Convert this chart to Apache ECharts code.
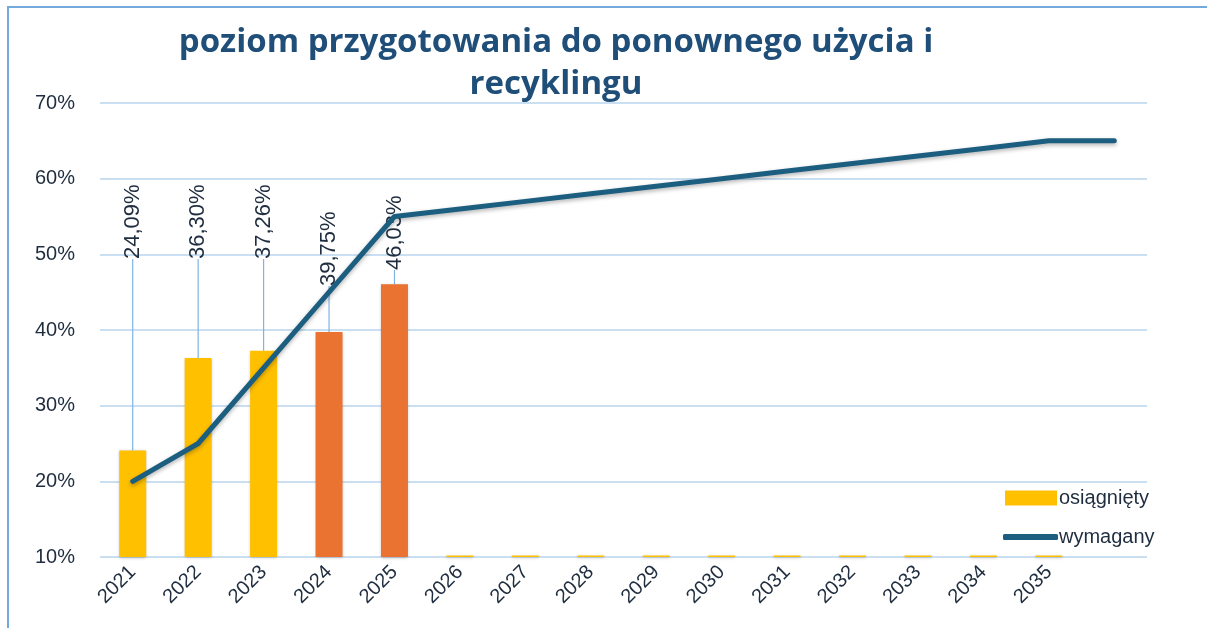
<!DOCTYPE html>
<html>
<head>
<meta charset="utf-8">
<script src="https://cdn.jsdelivr.net/npm/echarts@6/dist/echarts.min.js"></script>
<style>
  html, body { margin: 0; padding: 0; background: #fff; }
  #main { width: 1207px; height: 628px; }
  .frame {
    position: absolute; left: 7px; top: 6px; width: 1200px; height: 622px;
    border-left: 2px solid #74a9dc; border-top: 2px solid #74a9dc;
    pointer-events: none;
  }
</style>
</head>
<body>
<div id="main"></div>
<div class="frame"></div>
<script>
// lata
const years = ["2021", "2022", "2023", "2024", "2025", "2026", "2027", "2028",
  "2029", "2030", "2031", "2032", "2033", "2034", "2035", ""];
// osiągnięty poziom (%)
const achieved = [24.09, 36.30, 37.26, 39.75, 46.03,
  10.2, 10.2, 10.2, 10.2, 10.2, 10.2, 10.2, 10.2, 10.2, 10.2, null];
// wymagany poziom (%)
const required = [20, 25, 35, 45, 55, 56, 57, 58, 59, 60, 61, 62, 63, 64, 65, 65];
// etykiety słupków (tylko dla osiągniętych)
const achievedLabels = ["24,09%", "36,30%", "37,26%", "39,75%", "46,03%"];

const YELLOW = "#ffc000";
const ORANGE = "#ea7332";
const NAVY = "#1f2d3f";
const LINE = "#1b5e80";
// gdzie zaczyna się tekst etykiety (px)
const labelStartY = [259, 259, 259, 286, 270];

let myChart = echarts.init(document.getElementById("main"));
myChart.setOption({
  animation: false,
  textStyle: { fontFamily: "Liberation Sans, Arial, sans-serif" },
  graphic: [{
    type: "text",
    left: 556 - 400,
    top: 22,
    style: {
      text: "poziom przygotowania do ponownego użycia i\nrecyklingu",
      width: 800,
      x: 400,
      textAlign: "center",
      fill: "#1f4e79",
      font: "bold 33px 'Open Sans', sans-serif",
      lineHeight: 42
    }
  }],
  grid: { left: 100, right: 60, top: 103, bottom: 71 },
  legend: [
    {
      left: 1000,
      top: 483,
      itemWidth: 52,
      itemHeight: 15,
      itemGap: 0,
      textStyle: { color: NAVY, fontSize: 20, padding: [0, 0, 0, -3] },
      data: [{ name: "osiągnięty", icon: "rect" }]
    },
    {
      left: 998,
      top: 522,
      itemWidth: 55,
      itemHeight: 6,
      textStyle: { color: NAVY, fontSize: 20, padding: [0, 0, 0, -4] },
      data: [{ name: "wymagany", icon: "roundRect", itemStyle: { color: LINE } }]
    }
  ],
  xAxis: {
    type: "category",
    data: years,
    boundaryGap: true,
    axisLine: { show: false },
    axisTick: { show: false },
    axisLabel: { color: NAVY, fontSize: 20, rotate: 45, margin: 12, interval: 0 }
  },
  yAxis: {
    type: "value",
    min: 10,
    max: 70,
    interval: 10,
    axisLine: { show: false },
    axisTick: { show: false },
    axisLabel: { color: NAVY, fontSize: 20, margin: 25, formatter: "{value}%" },
    splitLine: { lineStyle: { color: "#cadff2", width: 2 } }
  },
  series: [
    {
      name: "osiągnięty",
      type: "bar",
      barWidth: 27,
      itemStyle: { color: YELLOW },
      data: achieved.map((v, i) => ({
        value: v,
        itemStyle: { color: i >= 3 && i <= 4 ? ORANGE : YELLOW,
          shadowColor: "rgba(0,0,0,0.25)", shadowBlur: 3, shadowOffsetY: 1 },
        label: { show: i < achievedLabels.length }
      })),
      label: {
        show: true,
        position: "top",
        rotate: 90,
        align: "left",
        verticalAlign: "middle",
        color: NAVY,
        fontSize: 22,
        formatter: p => achievedLabels[p.dataIndex] || ""
      },
      labelLayout: p => (p.dataIndex < labelStartY.length ? { y: labelStartY[p.dataIndex] } : {}),
      labelLine: { show: true, lineStyle: { color: "#7fb3e6", width: 1.2 } },
      z: 2
    },
    {
      name: "wymagany",
      type: "line",
      data: required,
      symbol: "none",
      lineStyle: { color: LINE, width: 5, cap: "round", join: "round",
        shadowColor: "rgba(0,0,0,0.3)", shadowBlur: 4, shadowOffsetY: 2 },
      itemStyle: { color: LINE },
      z: 3
    }
  ]
});
</script>
</body>
</html>
